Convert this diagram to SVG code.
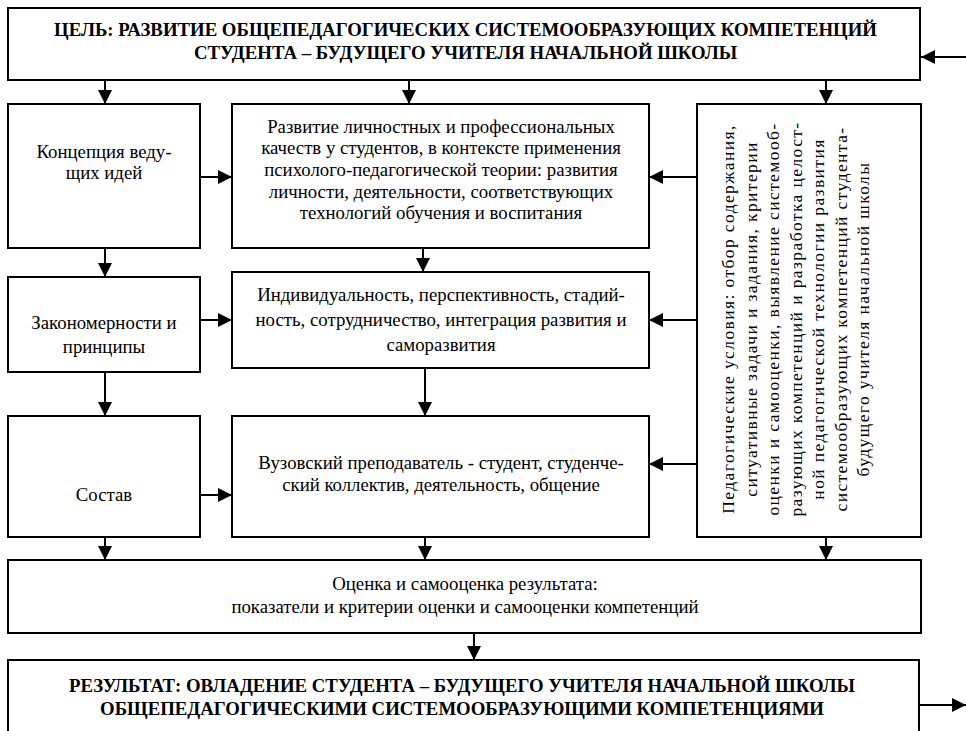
<svg xmlns="http://www.w3.org/2000/svg" width="966" height="731" viewBox="0 0 966 731">
<style>
  .box{fill:#fff;stroke:#000;stroke-width:2}
  .t{font-family:"Liberation Serif","Times New Roman",serif;font-size:18.8px;fill:#000;text-anchor:middle}
  .b{font-weight:bold}
  .v{font-size:17.5px;letter-spacing:1.4px}
  .c{stroke:#000;stroke-width:2;fill:none;marker-end:url(#ah)}
</style>
<defs>
  <marker id="ah" markerUnits="userSpaceOnUse" markerWidth="14" markerHeight="14" viewBox="0 0 14 14" refX="14" refY="7" orient="auto">
    <path d="M0,0 L14,7 L0,14 z" fill="#000"/>
  </marker>
</defs>

<g id="goal">
  <rect class="box" x="8" y="8" width="912" height="72"/>
  <text class="t b" x="465.5" y="36">ЦЕЛЬ: РАЗВИТИЕ ОБЩЕПЕДАГОГИЧЕСКИХ СИСТЕМООБРАЗУЮЩИХ КОМПЕТЕНЦИЙ</text>
  <text class="t b" x="465.5" y="59">СТУДЕНТА – БУДУЩЕГО УЧИТЕЛЯ НАЧАЛЬНОЙ ШКОЛЫ</text>
</g>

<g id="concept">
  <rect class="box" x="8" y="104" width="192" height="144"/>
  <text class="t" x="104" y="158">Концепция веду-</text>
  <text class="t" x="104" y="179">щих идей</text>
</g>

<g id="development">
  <rect class="box" x="232" y="104" width="417" height="144"/>
  <text class="t" x="441" y="133">Развитие личностных и профессиональных</text>
  <text class="t" x="441" y="154">качеств у студентов, в контексте применения</text>
  <text class="t" x="441" y="176">психолого-педагогической теории: развития</text>
  <text class="t" x="441" y="198">личности, деятельности, соответствующих</text>
  <text class="t" x="441" y="219">технологий обучения и воспитания</text>
</g>

<g id="conditions">
  <rect class="box" x="697" y="104" width="224" height="433"/>
  <text class="t v" transform="translate(734,319) rotate(-90)">Педагогические условия: отбор содержания,</text>
  <text class="t v" transform="translate(756.5,319) rotate(-90)">ситуативные задачи и задания, критерии</text>
  <text class="t v" transform="translate(779,319) rotate(-90)">оценки и самооценки, выявление системооб-</text>
  <text class="t v" transform="translate(801.5,319) rotate(-90)">разующих компетенций и разработка целост-</text>
  <text class="t v" transform="translate(824,319) rotate(-90)">ной педагогической технологии развития</text>
  <text class="t v" transform="translate(846.5,319) rotate(-90)">системообразующих компетенций студента-</text>
  <text class="t v" transform="translate(869,319) rotate(-90)">будущего учителя начальной школы</text>
</g>

<g id="laws">
  <rect class="box" x="8" y="277" width="192" height="95"/>
  <text class="t" x="104" y="329">Закономерности и</text>
  <text class="t" x="104" y="353">принципы</text>
</g>

<g id="principles">
  <rect class="box" x="232" y="272" width="417" height="96"/>
  <text class="t" x="441" y="301">Индивидуальность, перспективность, стадий-</text>
  <text class="t" x="441" y="326">ность, сотрудничество, интеграция развития и</text>
  <text class="t" x="441" y="351">саморазвития</text>
</g>

<g id="composition">
  <rect class="box" x="8" y="416" width="192" height="121"/>
  <text class="t" x="104" y="501">Состав</text>
</g>

<g id="participants">
  <rect class="box" x="232" y="416" width="417" height="121"/>
  <text class="t" x="441" y="469">Вузовский преподаватель - студент, студенче-</text>
  <text class="t" x="441" y="491">ский коллектив, деятельность, общение</text>
</g>

<g id="assessment">
  <rect class="box" x="8" y="560" width="913" height="73"/>
  <text class="t" x="465" y="590">Оценка и самооценка результата:</text>
  <text class="t" x="465" y="613">показатели и критерии оценки и самооценки компетенций</text>
</g>

<g id="result">
  <rect class="box" x="8" y="660" width="911" height="74"/>
  <text class="t b" x="462" y="692">РЕЗУЛЬТАТ: ОВЛАДЕНИЕ СТУДЕНТА – БУДУЩЕГО УЧИТЕЛЯ НАЧАЛЬНОЙ ШКОЛЫ</text>
  <text class="t b" x="462" y="715">ОБЩЕПЕДАГОГИЧЕСКИМИ СИСТЕМООБРАЗУЮЩИМИ КОМПЕТЕНЦИЯМИ</text>
</g>

<g id="connectors">
  <line class="c" x1="966" y1="57" x2="921" y2="57"/>
  <line class="c" x1="105" y1="80" x2="105" y2="104"/>
  <line class="c" x1="409" y1="80" x2="409" y2="104"/>
  <line class="c" x1="826" y1="80" x2="826" y2="104"/>
  <line class="c" x1="200" y1="177" x2="232" y2="177"/>
  <line class="c" x1="697" y1="177" x2="649" y2="177"/>
  <line class="c" x1="105" y1="248" x2="105" y2="277"/>
  <line class="c" x1="423" y1="248" x2="423" y2="272"/>
  <line class="c" x1="200" y1="320" x2="232" y2="320"/>
  <line class="c" x1="697" y1="320" x2="649" y2="320"/>
  <line class="c" x1="105" y1="372" x2="105" y2="416"/>
  <line class="c" x1="425" y1="368" x2="425" y2="416"/>
  <line class="c" x1="200" y1="495" x2="232" y2="495"/>
  <line class="c" x1="697" y1="464" x2="649" y2="464"/>
  <line class="c" x1="105" y1="537" x2="105" y2="560"/>
  <line class="c" x1="425" y1="537" x2="425" y2="560"/>
  <line class="c" x1="826" y1="537" x2="826" y2="560"/>
  <line class="c" x1="474" y1="633" x2="474" y2="660"/>
  <line class="c" x1="919" y1="705" x2="966" y2="705"/>
</g>
</svg>
